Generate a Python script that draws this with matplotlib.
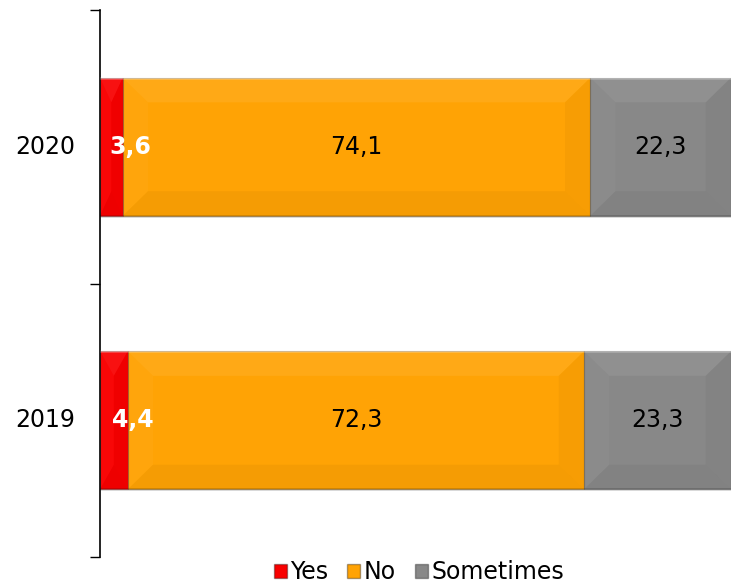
import numpy as np
import matplotlib
matplotlib.use("Agg")
import matplotlib.pyplot as plt
from matplotlib.patches import Polygon, Patch

years = ["2019", "2020"]
yes = [4.4, 3.6]
no = [72.3, 74.1]
sometimes = [23.3, 22.3]

series = [("Yes", yes, "#f80000", "white", "bold"),
          ("No", no, "#ffa305", "black", "normal"),
          ("Sometimes", sometimes, "#888888", "black", "normal")]

plt.rcParams['font.family'] = ['DejaVu Sans']

fig = plt.figure(figsize=(7.31, 5.88), dpi=100)
ax = fig.add_axes([100 / 731, 31 / 588, 631 / 731, 547 / 588])

y = np.arange(len(years))
bar_h = 0.505
left = np.zeros(len(years))


def bevel(ax, x0, w, yc, h, dx, dy):
    # soft chamfer faces, like excel's bevel style
    y0, y1 = yc - h / 2, yc + h / 2
    x1 = x0 + w
    ddx = min(dx, w / 2)
    faces = [
        ([(x0, y1), (x1, y1), (x1 - ddx, y1 - dy), (x0 + ddx, y1 - dy)], "white", 0.07),
        ([(x0, y0), (x1, y0), (x1 - ddx, y0 + dy), (x0 + ddx, y0 + dy)], "black", 0.04),
        ([(x0, y0), (x0, y1), (x0 + ddx, y1 - dy), (x0 + ddx, y0 + dy)], "white", 0.03),
        ([(x1, y0), (x1, y1), (x1 - ddx, y1 - dy), (x1 - ddx, y0 + dy)], "black", 0.03),
    ]
    for pts, c, a in faces:
        ax.add_patch(Polygon(pts, closed=True, facecolor=c, alpha=a,
                             edgecolor="none", zorder=3))
    # thin highlight on top edge, shadow on bottom
    ax.plot([x0, x1], [y1, y1], color="white", alpha=0.25, lw=2, zorder=3,
            solid_capstyle="butt")
    ax.plot([x0, x1], [y0, y0], color="black", alpha=0.15, lw=2, zorder=3,
            solid_capstyle="butt")


handles = []
for name, vals, color, tcolor, weight in series:
    bars = ax.barh(y, vals, left=left, height=bar_h, color=color,
                   edgecolor="#00000040", linewidth=0.8, zorder=2)
    for b, v in zip(bars, vals):
        bevel(ax, b.get_x(), b.get_width(), b.get_y() + b.get_height() / 2,
              b.get_height(), 4.0, 0.09)
        cx = b.get_x() + b.get_width() / 2
        if name == "Yes":
            cx += 3.0
        ax.text(cx, b.get_y() + b.get_height() / 2, f"{v:.1f}".replace(".", ","),
                ha="center", va="center", color=tcolor, fontsize=17,
                fontweight=weight, zorder=5)
    left = left + np.array(vals)
    handles.append(Patch(facecolor=color, edgecolor="#00000055", label=name))

ax.set_xlim(0, 100)
ax.set_ylim(-0.5, len(years) - 0.5)
ax.set_xticks([])
ax.set_yticks(np.arange(len(years) + 1) - 0.5)
ax.set_yticklabels([])
ax.set_yticks(y + 0.01, minor=True)
ax.set_yticklabels(years, minor=True, fontsize=17)
ax.tick_params(axis="y", which="major", length=7, width=1, direction="out")
ax.tick_params(axis="y", which="minor", length=0, pad=18)
for s in ["top", "right", "bottom"]:
    ax.spines[s].set_visible(False)
ax.spines["left"].set_linewidth(1.2)

fig.legend(handles=handles, loc="center", bbox_to_anchor=(0.573, 0.027),
           ncol=3, frameon=False, fontsize=17, handlelength=0.55,
           handleheight=0.55, handletextpad=0.15, columnspacing=0.8)

fig.savefig("out.png", dpi=100)
